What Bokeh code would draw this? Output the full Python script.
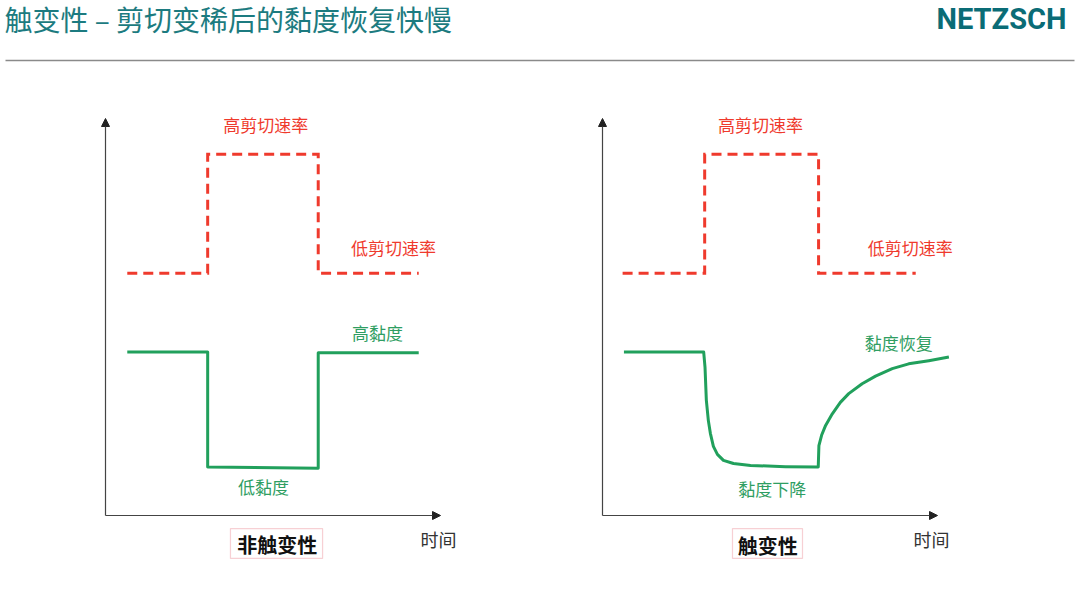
from bokeh.plotting import figure
from bokeh.layouts import column, row
from bokeh.models import Range1d, Arrow, NormalHead, BoxAnnotation
from bokeh.core.properties import value
from bokeh.embed import file_html
from bokeh.resources import INLINE

# ---------------- data ----------------
title_text = "触变性 – 剪切变稀后的黏度恢复快慢"
logo_text = "NETZSCH"

# left panel: non-thixotropic
shear_time_left = [0.65, 3.05, 3.05, 6.35, 6.35, 9.35]
shear_rate_left = [6.1, 6.1, 9.1, 9.1, 6.1, 6.1]
visc_time_left = [0.65, 3.05, 3.05, 6.35, 6.35, 9.35]
visc_left = [4.12, 4.12, 1.22, 1.19, 4.1, 4.1]

# right panel: thixotropic
shear_time_right = [0.6, 3.05, 3.05, 6.45, 6.45, 9.35]
shear_rate_right = [6.1, 6.1, 9.1, 9.1, 6.1, 6.1]
visc_time_right = [0.64, 3.02, 3.06, 3.10, 3.16, 3.22, 3.31, 3.43, 3.61, 3.91, 4.42, 5.46, 6.42,
                   6.44, 6.46, 6.54, 6.66, 6.86, 7.10, 7.35, 7.75, 8.15, 8.65, 9.14, 9.74, 10.34]
visc_right = [4.12, 4.12, 3.74, 2.90, 2.39, 2.07, 1.74, 1.54, 1.39, 1.31, 1.26, 1.23, 1.22,
              1.22, 1.76, 2.02, 2.27, 2.56, 2.85, 3.07, 3.32, 3.51, 3.70, 3.82, 3.90, 3.99]

left_labels_red = ["高剪切速率", "低剪切速率"]
left_labels_red_x = [4.78, 8.60]
left_labels_red_y = [9.85, 6.75]
left_labels_green = ["高黏度", "低黏度"]
left_labels_green_x = [8.12, 4.72]
left_labels_green_y = [4.61, 0.73]
left_caption = "非触变性"
left_caption_x, left_caption_y = 5.13, -0.74
left_box = (3.73, 6.48, -0.33, -1.08)

right_labels_red = ["高剪切速率", "低剪切速率"]
right_labels_red_x = [4.72, 9.19]
right_labels_red_y = [9.85, 6.75]
right_labels_green = ["黏度恢复", "黏度下降"]
right_labels_green_x = [8.84, 5.07]
right_labels_green_y = [4.36, 0.68]
right_caption = "触变性"
right_caption_x, right_caption_y = 4.93, -0.76
right_box = (3.88, 5.97, -0.33, -1.08)

time_label = "时间"
left_time_x, right_time_x, time_y = 9.94, 9.82, -0.60

axis_len = 10.0

# ---------------- style ----------------
FONT = "Noto Sans CJK SC"
RED = "#ef3a2d"
GREEN = "#21a05c"
GREEN_TXT = "#2f9e62"
TEAL = "#1c7b80"

TOTAL_W = 1080
HEADER_H = 72
CHART_H = 518
PX_PER_T = 33.5
PX_PER_V = 39.7
LEFT_W = 505


def header():
    p = figure(width=TOTAL_W, height=HEADER_H, output_backend="svg", toolbar_location=None,
               x_range=Range1d(0, TOTAL_W), y_range=Range1d(HEADER_H, 0),
               x_axis_location=None, y_axis_location=None, min_border=0,
               outline_line_color=None)
    p.grid.visible = False
    p.text(x=[4], y=[18], text=[title_text], text_font=value(FONT), text_font_size="28px",
           text_color=TEAL, text_baseline="middle", text_align="left")
    p.text(x=[1066], y=[18], text=[logo_text], text_font=value("Roboto"),
           text_font_size="29px", text_font_style="bold",
           text_color="#0a6c76", text_baseline="middle", text_align="right")
    p.line(x=[5, 1074], y=[60, 60], line_color="#8a8a8a", line_width=1.5)
    return p


def panel(width, origin_px, st, sr, vt, vv, red_lab, rx, ry, green_lab, gx, gy,
          cap, cx, cy, box, tx):
    # origin_px: pixel position (within this figure) of the time axis origin
    x0 = -origin_px / PX_PER_T
    x1 = (width - origin_px) / PX_PER_T
    origin_y = 515 - HEADER_H
    y1 = origin_y / PX_PER_V
    y0 = -(CHART_H - origin_y) / PX_PER_V
    p = figure(width=width, height=CHART_H, output_backend="svg", toolbar_location=None,
               x_range=Range1d(x0, x1), y_range=Range1d(y0, y1),
               x_axis_location=None, y_axis_location=None, min_border=0,
               outline_line_color=None)
    p.grid.visible = False
    p.add_layout(Arrow(end=NormalHead(size=8, fill_color="#222", line_color="#222"),
                       x_start=0, y_start=0, x_end=0, y_end=axis_len,
                       line_color="#444", line_width=1.2))
    p.add_layout(Arrow(end=NormalHead(size=8, fill_color="#222", line_color="#222"),
                       x_start=0, y_start=0, x_end=axis_len, y_end=0,
                       line_color="#444", line_width=1.2))
    p.line(st, sr, line_color=RED, line_width=3, line_dash="10 6", line_join="miter")
    p.line(vt, vv, line_color=GREEN, line_width=3, line_join="round")
    p.text(x=rx, y=ry, text=red_lab, text_font=value(FONT), text_font_size="17px",
           text_color=RED, text_align="center", text_baseline="middle")
    p.text(x=gx, y=gy, text=green_lab, text_font=value(FONT), text_font_size="17px",
           text_color=GREEN_TXT, text_align="center", text_baseline="middle")
    p.add_layout(BoxAnnotation(left=box[0], right=box[1], top=box[2], bottom=box[3],
                               fill_alpha=0, line_color="#e36470", line_width=1.2))
    p.text(x=[cx], y=[cy], text=[cap], text_font=value(FONT), text_font_size="20px",
           text_font_style="bold", text_color="#111111", text_align="center",
           text_baseline="middle")
    p.text(x=[tx], y=[time_y], text=[time_label], text_font=value(FONT),
           text_font_size="18px", text_color="#333333", text_align="center",
           text_baseline="middle")
    return p


left = panel(LEFT_W, 105, shear_time_left, shear_rate_left, visc_time_left, visc_left,
             left_labels_red, left_labels_red_x, left_labels_red_y,
             left_labels_green, left_labels_green_x, left_labels_green_y,
             left_caption, left_caption_x, left_caption_y, left_box, left_time_x)
right = panel(TOTAL_W - LEFT_W, 602 - LEFT_W, shear_time_right, shear_rate_right,
              visc_time_right, visc_right,
              right_labels_red, right_labels_red_x, right_labels_red_y,
              right_labels_green, right_labels_green_x, right_labels_green_y,
              right_caption, right_caption_x, right_caption_y, right_box, right_time_x)

layout = column(header(), row(left, right))
open("out.html", "w").write(file_html(layout, INLINE))
